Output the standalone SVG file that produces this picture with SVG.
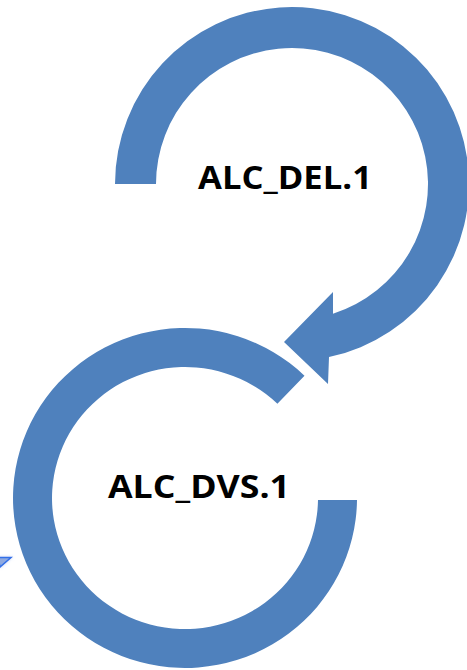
<svg xmlns="http://www.w3.org/2000/svg" width="467" height="670" viewBox="0 0 467 670">
  <style>
    .ring { fill: #4f81bd; stroke: none; }
    .label { font-family: "Open Sans", "Liberation Sans", sans-serif; font-weight: bold; font-size: 33px; fill: #000000; }
    .stub { fill: #8ea9e0; stroke: #3370e8; stroke-width: 1.5; stroke-linejoin: miter; }
  </style>
  <defs>
    <filter id="glow" x="-50%" y="-50%" width="200%" height="200%">
      <feGaussianBlur in="SourceAlpha" stdDeviation="1.5" result="b"/>
      <feFlood flood-color="#9db8f0" flood-opacity="0.6"/>
      <feComposite in2="b" operator="in" result="g"/>
      <feMerge><feMergeNode in="g"/><feMergeNode in="SourceGraphic"/></feMerge>
    </filter>
  </defs>

  <!-- upper cycle: open ring ending in an arrowhead pointing into the lower cycle -->
  <g id="alc-del">
    <path class="ring" d="M115,184 A177,177 0 1 1 329,357.1 L328,384 L284,342 L333,292 L333,313.7 A136,136 0 1 0 156,184 Z"/>
    <text class="label" x="285" y="189" text-anchor="middle" textLength="174" lengthAdjust="spacingAndGlyphs">ALC_DEL.1</text>
  </g>

  <!-- lower cycle: open ring with a flat start and a slanted end -->
  <g id="alc-dvs">
    <path class="ring" d="M357,500 A172,170 0 1 1 304.5,375.7 L277.4,403.8 A133,131 0 1 0 318,500 Z"/>
    <text class="label" x="199" y="498" text-anchor="middle" textLength="182" lengthAdjust="spacingAndGlyphs">ALC_DVS.1</text>
  </g>

  <!-- partial arrowhead at the left margin -->
  <g id="connectors">
    <polygon class="stub" filter="url(#glow)" points="-2,557.5 11,557.5 0,567"/>
  </g>
</svg>
